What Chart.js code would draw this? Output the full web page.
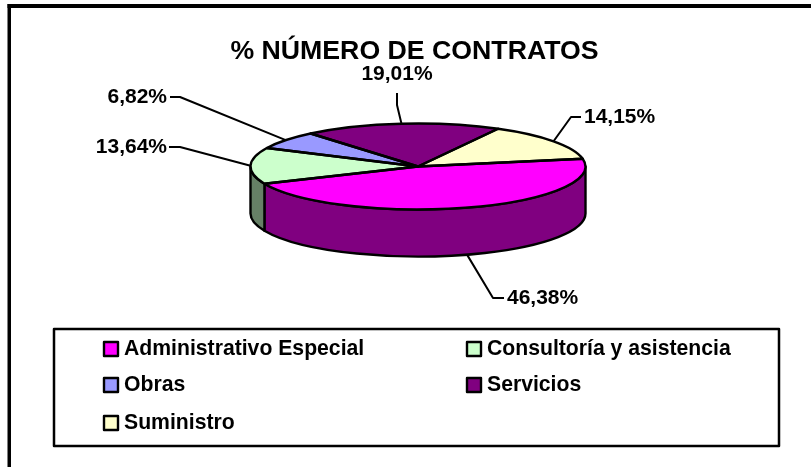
<!DOCTYPE html>
<html>
<head>
<meta charset="utf-8">
<style>html,body{margin:0;padding:0;background:#fff;overflow:hidden}canvas{display:block}</style>
<script src="https://cdn.jsdelivr.net/npm/chart.js@4"></script>
</head>
<body>
<canvas id="c" width="811" height="467"></canvas>
<script>
const chartTitle = '% NÚMERO DE CONTRATOS';
const categories = ['Administrativo Especial', 'Consultoría y asistencia', 'Obras', 'Servicios', 'Suministro'];
const shares = [46.38, 13.64, 6.82, 19.01, 14.15];
const topColors = ['#FF00FF', '#CCFFCC', '#9999FF', '#800080', '#FFFFCC'];
const sideColors = ['#800080', '#668066', '#4D4D80', '#400040', '#808066'];

const FONT = '"Liberation Sans", Arial, sans-serif';
const pieRotation = 79.5, pieRadius = 167.5, pieTilt = 43 / 167.5, pieDepth = 47, pieShiftX = 3.5;
const lineW = 2.4, leaderW = 2;
const leaderLayout = [
  {elbow: [493, 298], end: [504, 298], text: [507, 298], align: 'left', side: true},
  {elbow: [180, 147], end: [169, 147], text: [167, 147], align: 'right'},
  {elbow: [180, 97], end: [170, 97], text: [167, 97], align: 'right'},
  {elbow: [397, 105], end: [397, 93], text: [397, 74], align: 'center'},
  {elbow: [571, 117], end: [581, 117], text: [584, 117], align: 'left'}
];
const legendBox = {x: 54, y: 329, w: 725, h: 117};
const legendCols = [104, 467], legendRows = [342, 378, 416], swatch = 14;

function geom(chart) {
  const el = chart.getDatasetMeta(0).data[0];
  return {el, cx: el.x + pieShiftX, cy: el.y, rx: el.outerRadius, ry: el.outerRadius * pieTilt};
}
function fmt(v) { return v.toFixed(2).replace('.', ',') + '%'; }
function norm(a) {
  const t = Math.PI * 2;
  while (a < -Math.PI / 2) a += t;
  while (a >= t - Math.PI / 2) a -= t;
  return a;
}

const pie3d = {
  id: 'pie3d',
  beforeDraw(chart) {
    const ctx = chart.ctx;
    ctx.save();
    ctx.fillStyle = '#000';
    ctx.fillRect(7.5, 4, 3.5, 463);
    ctx.fillRect(7.5, 4, 803.5, 4);
    ctx.restore();
  },
  beforeDatasetsDraw(chart) {
    const ctx = chart.ctx, g = geom(chart), arcs = chart.getDatasetMeta(0).data;
    ctx.save();
    ctx.lineWidth = lineW;
    ctx.strokeStyle = '#000';
    ctx.lineJoin = 'round';
    arcs.forEach((a, i) => {
      const s = norm(a.startAngle), e = s + (a.endAngle - a.startAngle);
      const a0 = Math.max(s, 0), a1 = Math.min(e, Math.PI);
      if (a1 <= a0) return;
      ctx.beginPath();
      ctx.ellipse(g.cx, g.cy, g.rx, g.ry, 0, a0, a1);
      ctx.ellipse(g.cx, g.cy + pieDepth, g.rx, g.ry, 0, a1, a0, true);
      ctx.closePath();
      ctx.fillStyle = sideColors[i];
      ctx.fill();
      ctx.stroke();
    });
    ctx.restore();
    ctx.save();
    ctx.translate(g.cx, g.cy);
    ctx.scale(1, pieTilt);
    ctx.translate(-g.el.x, -g.el.y);
  },
  afterDatasetsDraw(chart) {
    const ctx = chart.ctx, g = geom(chart), arcs = chart.getDatasetMeta(0).data;
    ctx.restore();
    ctx.save();
    ctx.lineWidth = lineW;
    ctx.strokeStyle = '#000';
    ctx.lineJoin = 'round';
    arcs.forEach(a => {
      ctx.beginPath();
      ctx.moveTo(g.cx, g.cy);
      ctx.ellipse(g.cx, g.cy, g.rx, g.ry, 0, a.startAngle, a.endAngle);
      ctx.closePath();
      ctx.stroke();
    });
    ctx.lineWidth = leaderW;
    ctx.fillStyle = '#000';
    ctx.font = 'bold 21px ' + FONT;
    ctx.textBaseline = 'middle';
    arcs.forEach((a, i) => {
      const L = leaderLayout[i], mid = (a.startAngle + a.endAngle) / 2;
      const ax = g.cx + g.rx * Math.cos(mid);
      const ay = g.cy + g.ry * Math.sin(mid) + (L.side ? pieDepth : 0);
      ctx.beginPath();
      ctx.moveTo(ax, ay);
      ctx.lineTo(L.elbow[0], L.elbow[1]);
      ctx.lineTo(L.end[0], L.end[1]);
      ctx.stroke();
      ctx.textAlign = L.align;
      ctx.fillText(fmt(shares[i]), L.text[0], L.text[1]);
    });
    ctx.lineWidth = 2.5;
    ctx.strokeRect(legendBox.x, legendBox.y, legendBox.w, legendBox.h);
    ctx.textAlign = 'left';
    ctx.font = 'bold 21.2px ' + FONT;
    categories.forEach((name, i) => {
      const x = legendCols[i % 2], y = legendRows[Math.floor(i / 2)];
      ctx.lineWidth = 2.4;
      ctx.fillStyle = topColors[i];
      ctx.fillRect(x, y, swatch, swatch);
      ctx.strokeRect(x, y, swatch, swatch);
      ctx.fillStyle = '#000';
      ctx.fillText(name, x + 20, y + swatch / 2 + 0.5);
    });
    ctx.restore();
  }
};

new Chart(document.getElementById('c'), {
  type: 'pie',
  data: {
    labels: categories,
    datasets: [{data: shares, backgroundColor: topColors, borderWidth: 0, radius: pieRadius}]
  },
  options: {
    responsive: false,
    animation: false,
    rotation: pieRotation,
    layout: {padding: {left: 48, right: 30, top: 36, bottom: 257}},
    plugins: {
      legend: {display: false},
      tooltip: {enabled: false},
      title: {
        display: true,
        text: chartTitle,
        color: '#000',
        font: {family: FONT, size: 26.7, weight: 'bold', lineHeight: 1.2},
        padding: {top: 0, bottom: 55}
      }
    }
  },
  plugins: [pie3d]
});
</script>
</body>
</html>
